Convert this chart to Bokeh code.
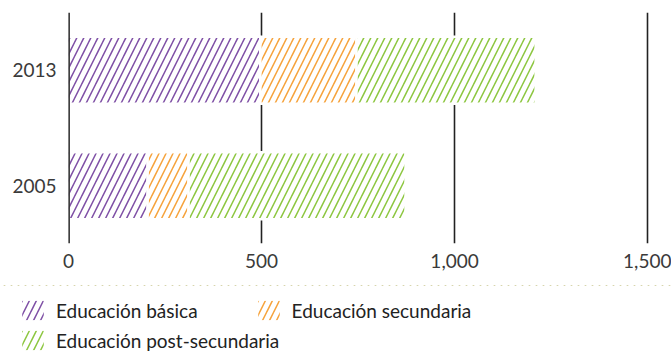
from bokeh.plotting import figure
from bokeh.layouts import column, row
from bokeh.models import (ColumnDataSource, Legend, LegendItem, Span, FixedTicker,
                          NumeralTickFormatter, Range1d)
from bokeh.embed import file_html
from bokeh.resources import INLINE

years = ["2005", "2013"]
basica = [205, 497]
secundaria = [106, 249]
post_secundaria = [562, 464]
series_names = ["Educación básica", "Educación secundaria", "Educación post-secundaria"]
colors = ["#7e4fa5", "#f6a23a", "#8cc63f"]
x_ticks = [0, 500, 1000, 1500]

FONT = "Lato"
HATCH = dict(fill_color="white", hatch_pattern="/", hatch_scale=14, hatch_weight=1.5)

# ---- main chart ----
p = figure(y_range=years, x_range=(0, 1536), width=671, height=285,
           output_backend="svg", toolbar_location=None,
           min_border_left=68, min_border_right=10, min_border_top=12, min_border_bottom=42)
p.y_range.range_padding = 0
p.outline_line_color = None

src = ColumnDataSource(dict(
    year=years,
    b0=[0, 0],
    b1=basica,
    s1=[b + s for b, s in zip(basica, secundaria)],
    p1=[b + s + q for b, s, q in zip(basica, secundaria, post_secundaria)],
))

for (l, r), c in zip([("b0", "b1"), ("b1", "s1"), ("s1", "p1")], colors):
    p.hbar(y="year", left=l, right=r, height=0.58, source=src, hatch_color=c,
           line_color="white", line_width=2.5, **HATCH)

p.add_layout(Span(location=0, dimension="height", line_color="black", line_width=2.5))

p.xgrid.ticker = FixedTicker(ticks=x_ticks)
p.xgrid.grid_line_color = "#222222"
p.xgrid.grid_line_width = 1.6
p.ygrid.grid_line_color = None

for ax in (p.xaxis, p.yaxis):
    ax.axis_line_color = None
    ax.major_tick_line_color = None
    ax.minor_tick_line_color = None
    ax.major_tick_out = 0
    ax.major_tick_in = 0
    ax.minor_tick_out = 0
    ax.major_label_text_font = FONT
    ax.major_label_text_font_size = "19px"
    ax.major_label_text_color = "#3a3a3a"

p.xaxis.ticker = FixedTicker(ticks=x_ticks)
p.xaxis.formatter = NumeralTickFormatter(format="0,0")
p.xaxis.major_label_standoff = 10
p.yaxis.major_label_standoff = 12

# ---- legend strip ----
lg = figure(width=671, height=68, x_range=Range1d(0, 1), y_range=Range1d(0, 1),
            output_backend="svg", toolbar_location=None,
            min_border_left=0, min_border_right=0, min_border_top=0, min_border_bottom=0)
lg.axis.visible = False
lg.grid.visible = False
lg.outline_line_color = None

# one off-screen row so the legend swatches have something to draw from
offscreen = ColumnDataSource(dict(y=[10], left=[0], right=[1]))
leg_renderers = [lg.hbar(y="y", left="left", right="right", height=0.5, source=offscreen,
                         hatch_color=c, line_color=None, **HATCH) for c in colors]

def make_legend(items, loc, spacing):
    return Legend(items=items, location=loc, orientation="horizontal",
                  background_fill_alpha=0, border_line_color=None,
                  padding=0, margin=0, spacing=spacing,
                  glyph_width=27, glyph_height=24, label_standoff=10,
                  label_text_font=FONT, label_text_font_size="19px",
                  label_text_color="#222222", label_height=24)

leg1 = make_legend([LegendItem(label=series_names[0], renderers=[leg_renderers[0]]),
                    LegendItem(label=series_names[1], renderers=[leg_renderers[1]])],
                   (19, 31), 57)
leg2 = make_legend([LegendItem(label=series_names[2], renderers=[leg_renderers[2]])],
                   (19, 1), 10)
lg.add_layout(leg1, "center")
lg.add_layout(leg2, "center")

open("out.html", "w").write(file_html(column(p, row(lg, spacing=0), spacing=0), INLINE))
